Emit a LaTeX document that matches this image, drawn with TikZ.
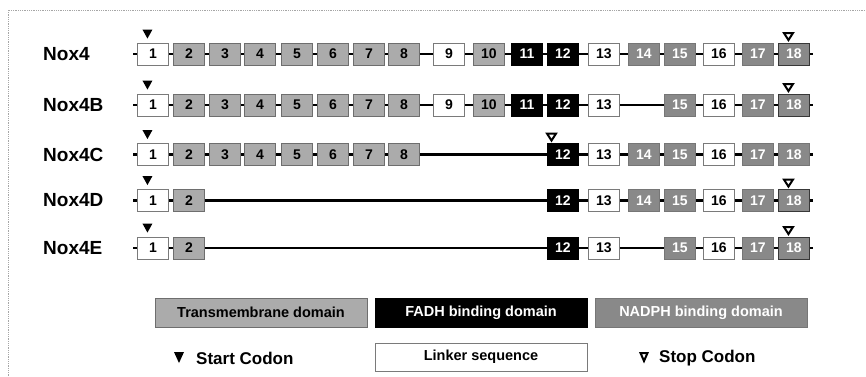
\documentclass[tikz,border=0pt]{standalone}
\usepackage{fontspec}
\setmainfont{Liberation Sans}
\usetikzlibrary{calc}
\definecolor{tmgray}{HTML}{ABABAB}
\definecolor{tmborder}{HTML}{6E6E6E}
\definecolor{nagray}{HTML}{898989}
\definecolor{naborder}{HTML}{767676}
\definecolor{lkborder}{HTML}{7A7A7A}
\definecolor{darkborder}{HTML}{383838}
\begin{document}
\begin{tikzpicture}[x=1pt,y=-1pt,
  exon/.style={draw, minimum width=31pt, minimum height=22pt, inner sep=0pt, line width=0.9pt,
    font=\fontsize{14}{14}\selectfont\bfseries, anchor=west},
  tm/.style={exon, fill=tmgray, draw=tmborder},
  lk/.style={exon, fill=white, draw=lkborder},
  fa/.style={exon, fill=black, draw=black, text=white},
  na/.style={exon, fill=nagray, draw=naborder, text=white},
  nx/.style={exon, fill=nagray, draw=darkborder, text=white},
  intron/.style={line width=2.5pt, black},
  rowlabel/.style={anchor=west, inner sep=0pt, font=\fontsize{19}{19}\selectfont\bfseries},
  legbox/.style={draw, minimum width=212pt, minimum height=29pt, inner sep=0pt, line width=0.9pt,
    font=\fontsize{14.5}{14.5}\selectfont\bfseries},
  legtext/.style={anchor=west, inner sep=0pt, font=\fontsize{17}{17}\selectfont\bfseries},
  startmark/.style={fill=black},
  stopmark/.style={draw=black, fill=white, line width=2pt, line join=miter},
  frame/.style={gray!70, line width=0.6pt, dash pattern=on 0.7pt off 1.1pt}
]
\useasboundingbox (0,0) rectangle (866,376);
\draw[frame] (8,376) -- (8,10) -- (866,10);

\def\xs{{0,137,173,209,244,281,317,353,388,433,473,511,547,588,628,664,703,742,778}}

\foreach \r/\y/\lab/\list in {
  1/54/Nox4/{1/lk,2/tm,3/tm,4/tm,5/tm,6/tm,7/tm,8/tm,9/lk,10/tm,11/fa,12/fa,13/lk,14/na,15/na,16/lk,17/na,18/nx},
  2/105/Nox4B/{1/lk,2/tm,3/tm,4/tm,5/tm,6/tm,7/tm,8/tm,9/lk,10/tm,11/fa,12/fa,13/lk,15/na,16/lk,17/na,18/nx},
  3/154.5/Nox4C/{1/lk,2/tm,3/tm,4/tm,5/tm,6/tm,7/tm,8/tm,12/fa,13/lk,14/na,15/na,16/lk,17/na,18/na},
  4/200.5/Nox4D/{1/lk,2/tm,12/fa,13/lk,14/na,15/na,16/lk,17/na,18/nx},
  5/248/Nox4E/{1/lk,2/tm,12/fa,13/lk,15/na,16/lk,17/na,18/nx}}{
  \node[rowlabel] (lab\r) at (43,\y) {\lab};
  \coordinate (s\r) at (133,\y);
  \coordinate (t\r) at (813,\y);
  \foreach \n/\s [remember=\n as \p (initially 0)] in \list {
    \pgfmathsetmacro\xx{\xs[\n]}
    \node[\s] (e\r-\n) at (\xx,\y) {\n};
    \ifnum\p=0
      \draw[intron] (s\r) -- (e\r-\n.west);
    \else
      \draw[intron] (e\r-\p.east) -- (e\r-\n.west);
    \fi
  }
  \draw[intron] (e\r-18.east) -- (t\r);
  % start codon
  \fill[startmark] ($(e\r-1.north)+(-10.5,-13)$) -- ++(10,0) -- ++(-5,9) -- cycle;
}

% stop codons
\foreach \nm in {e1-18,e2-18,e4-18,e5-18}{
  \draw[stopmark] ($(\nm.north)+(-10,-9.5)$) -- ++(9,0) -- ++(-4.5,7) -- cycle;
}
\draw[stopmark] ($(e3-12.north west)+(0,-9.5)$) -- ++(9,0) -- ++(-4.5,7) -- cycle;

% legend
\node[legbox, fill=tmgray, draw=tmborder] (ltm) at (261,312.5) {Transmembrane domain};
\node[legbox, fill=black, draw=black, text=white] (lfa) at (481,312.5) {FADH binding domain};
\node[legbox, fill=nagray, draw=naborder, text=white] (lna) at (701,312.5) {NADPH binding domain};
\node[legbox, fill=white, draw=lkborder, minimum height=28pt] (llk) at (481,357) {Linker sequence};

\fill[startmark] (174,352) -- ++(10,0) -- ++(-5,11) -- cycle;
\node[legtext] (lstart) at (196,358) {Start Codon};
\draw[stopmark] (640.5,353) -- ++(7,0) -- ++(-3.5,8) -- cycle;
\node[legtext] (lstop) at (659,358) {Stop Codon};
\end{tikzpicture}
\end{document}
